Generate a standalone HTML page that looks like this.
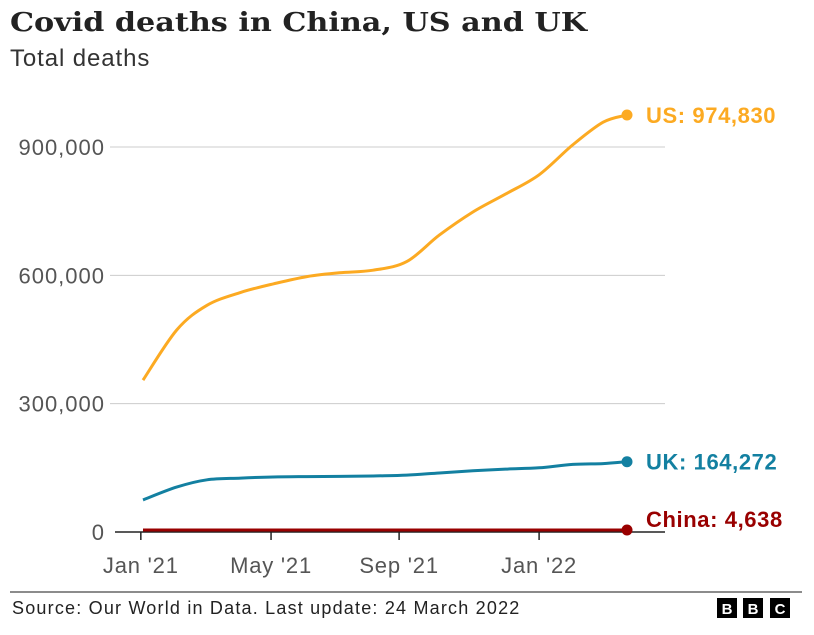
<!DOCTYPE html>
<html><head><meta charset="utf-8"><style>
body{margin:0;background:#fff;width:814px;height:630px;overflow:hidden;font-family:"Liberation Sans",sans-serif}
</style></head><body>
<svg width="814" height="630" xmlns="http://www.w3.org/2000/svg">
<text x="10" y="31" font-size="26" font-weight="bold" fill="#222" font-family="DejaVu Serif" textLength="577" lengthAdjust="spacingAndGlyphs">Covid deaths in China, US and UK</text>
<text x="10" y="66" font-size="24" fill="#333" letter-spacing="0.9">Total deaths</text>
<g id="grid"></g>
<g id="xaxis"></g>
<g id="series"></g>
<line x1="10" y1="592" x2="802" y2="592" stroke="#666" stroke-width="1.5"/>
<text x="12" y="614" font-size="18" fill="#222" letter-spacing="1.2">Source: Our World in Data. Last update: 24 March 2022</text>
<g font-size="15" font-weight="bold" fill="#fff" text-anchor="middle">
<rect x="717" y="598" width="20" height="20" fill="#000"/><text x="727" y="614">B</text>
<rect x="743" y="598" width="20" height="20" fill="#000"/><text x="753" y="614">B</text>
<rect x="770" y="598" width="20" height="20" fill="#000"/><text x="780" y="614">C</text>
</g>
</svg>
<script>
const yTicks=[0,300000,600000,900000];
const yTickLabels=["0","300,000","600,000","900,000"];
const xTickDays=[-2,118,236,365];
const xTickLabels=["Jan '21","May '21","Sep '21","Jan '22"];
const days=[0,31,59,90,120,151,181,212,243,273,304,334,365,396,424,446];
const usDeaths=[355000,472000,530000,560000,580000,597000,606000,612000,632000,694000,748000,790000,835000,905000,958000,974830];
const ukDeaths=[75000,105000,122000,126000,128600,129500,130000,131000,133000,138000,143000,147000,150000,158000,160000,164272];
const chinaDeaths=[4636,4636,4636,4636,4636,4636,4636,4636,4636,4636,4636,4636,4636,4637,4638,4638];
const seriesNames=["US","UK","China"];
const seriesLabels=["US: 974,830","UK: 164,272","China: 4,638"];
const NS="http://www.w3.org/2000/svg";
const x=d=>143+d*(627-143)/446;
const y=v=>532-v*(532-147)/900000;
function mk(t,a,p){const e=document.createElementNS(NS,t);for(const k in a)e.setAttribute(k,a[k]);p.appendChild(e);return e;}
function smooth(pts){let d='M'+pts[0][0]+','+pts[0][1];for(let i=0;i<pts.length-1;i++){const p0=pts[i-1]||pts[i],p1=pts[i],p2=pts[i+1],p3=pts[i+2]||p2;
const c1=[p1[0]+(p2[0]-p0[0])/6,p1[1]+(p2[1]-p0[1])/6],c2=[p2[0]-(p3[0]-p1[0])/6,p2[1]-(p3[1]-p1[1])/6];
d+=' C'+c1[0].toFixed(1)+','+c1[1].toFixed(1)+' '+c2[0].toFixed(1)+','+c2[1].toFixed(1)+' '+p2[0].toFixed(1)+','+p2[1].toFixed(1);}return d;}
const grid=document.getElementById('grid');
yTicks.forEach((v,i)=>{
  if(v>0){const l=mk('line',{x1:110,x2:665,y1:y(v),y2:y(v),stroke:'#ccc','stroke-width':1},grid);
  
  }
  const t=mk('text',{x:105,y:y(v)+8,'font-size':22,fill:'#555','text-anchor':'end','letter-spacing':'1'},grid);
  t.textContent=yTickLabels[i];
  
  
});
const xa=document.getElementById('xaxis');
const ax=mk('line',{x1:115,x2:665,y1:532,y2:532,stroke:'#222','stroke-width':1.5},xa);


xTickDays.forEach((d,i)=>{
  const l=mk('line',{x1:x(d),x2:x(d),y1:532,y2:540,stroke:'#222','stroke-width':1.5},xa);
  
  
  const t=mk('text',{x:x(d),y:573,'font-size':22,fill:'#555','text-anchor':'middle','letter-spacing':'0.8'},xa);
  t.textContent=xTickLabels[i];
  
  
});
const sg=document.getElementById('series');
const all=[usDeaths,ukDeaths,chinaDeaths];
const colors=["#fcaa22","#1380a1","#990000"];
const labelDy=[0,0,-11];
all.forEach((vals,s)=>{
  const pts=vals.map((v,i)=>[x(days[i]),y(v)]);
  const p=mk('path',{d:smooth(pts),fill:'none',stroke:colors[s],'stroke-width':3,'stroke-linejoin':'round'},sg);
  
  
  const n=vals.length-1;
  const c=mk('circle',{cx:x(days[n]),cy:y(vals[n]),r:5.5,fill:colors[s]},sg);
  
  
  const t=mk('text',{x:646,y:y(vals[n])+8+labelDy[s],'font-size':22,'font-weight':'bold',fill:colors[s],'letter-spacing':'0.6'},sg);
  t.textContent=seriesLabels[s];
  
  
});
</script>
</body></html>
